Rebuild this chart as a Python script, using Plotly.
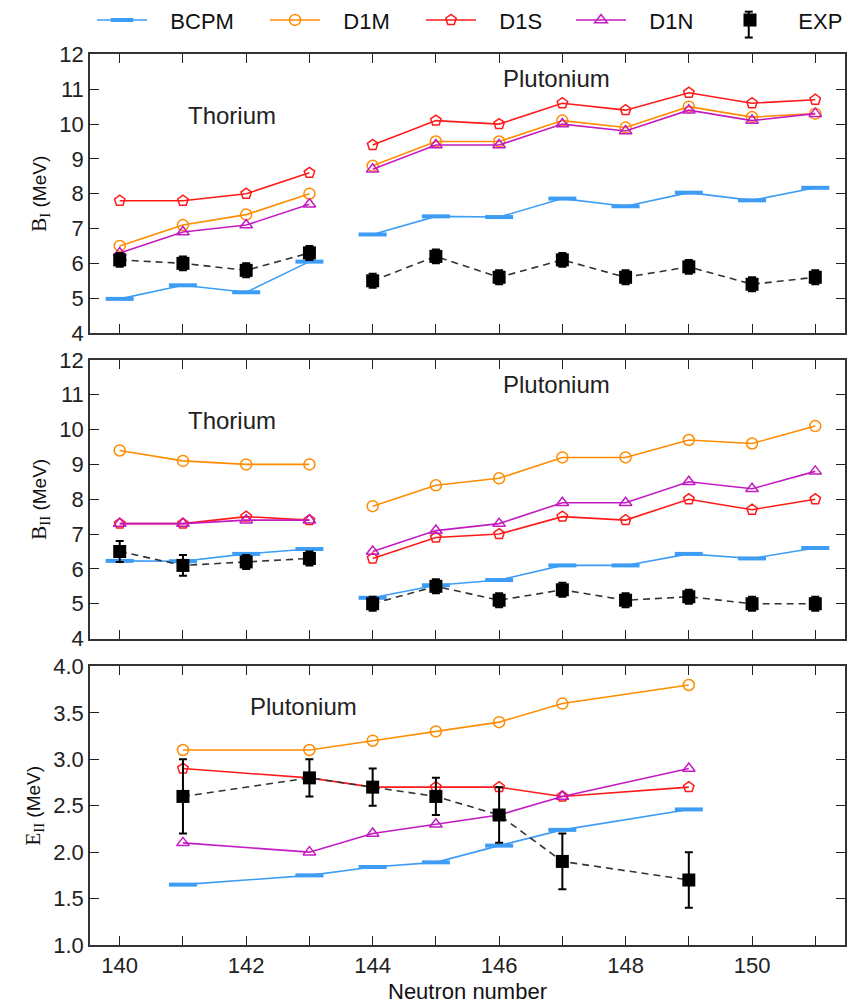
import plotly.graph_objects as go

# ---------------- data ----------------
N_TH = [140, 141, 142, 143]
N_PU = [144, 145, 146, 147, 148, 149, 150, 151]
N_E2 = [141, 143, 144, 145, 146, 147, 149]

# B_I (MeV)
BI_BCPM_TH = [4.98, 5.37, 5.17, 6.05]
BI_BCPM_PU = [6.83, 7.35, 7.33, 7.86, 7.64, 8.03, 7.81, 8.17]
BI_D1M_TH = [6.5, 7.1, 7.4, 8.0]
BI_D1M_PU = [8.8, 9.5, 9.5, 10.1, 9.9, 10.5, 10.2, 10.3]
BI_D1S_TH = [7.8, 7.8, 8.0, 8.6]
BI_D1S_PU = [9.4, 10.1, 10.0, 10.6, 10.4, 10.9, 10.6, 10.7]
BI_D1N_TH = [6.3, 6.9, 7.1, 7.7]
BI_D1N_PU = [8.7, 9.4, 9.4, 10.0, 9.8, 10.4, 10.1, 10.3]
BI_EXP_TH = [6.1, 6.0, 5.8, 6.3]
BI_EXP_PU = [5.5, 6.2, 5.6, 6.1, 5.6, 5.9, 5.4, 5.6]
BI_ERR_TH = [0.2, 0.2, 0.2, 0.2]
BI_ERR_PU = [0.2, 0.2, 0.2, 0.2, 0.2, 0.2, 0.2, 0.2]

# B_II (MeV)
BII_BCPM_TH = [6.23, 6.22, 6.43, 6.57]
BII_BCPM_PU = [5.17, 5.53, 5.68, 6.1, 6.1, 6.43, 6.3, 6.6]
BII_D1M_TH = [9.4, 9.1, 9.0, 9.0]
BII_D1M_PU = [7.8, 8.4, 8.6, 9.2, 9.2, 9.7, 9.6, 10.1]
BII_D1S_TH = [7.3, 7.3, 7.5, 7.4]
BII_D1S_PU = [6.3, 6.9, 7.0, 7.5, 7.4, 8.0, 7.7, 8.0]
BII_D1N_TH = [7.3, 7.3, 7.4, 7.4]
BII_D1N_PU = [6.5, 7.1, 7.3, 7.9, 7.9, 8.5, 8.3, 8.8]
BII_EXP_TH = [6.5, 6.1, 6.2, 6.3]
BII_EXP_PU = [5.0, 5.5, 5.1, 5.4, 5.1, 5.2, 5.0, 5.0]
BII_ERR_TH = [0.3, 0.3, 0.2, 0.2]
BII_ERR_PU = [0.2, 0.2, 0.2, 0.2, 0.2, 0.2, 0.2, 0.2]

# E_II (MeV), plutonium
EII_BCPM = [1.65, 1.75, 1.84, 1.89, 2.07, 2.24, 2.46]
EII_D1M = [3.1, 3.1, 3.2, 3.3, 3.4, 3.6, 3.8]
EII_D1S = [2.9, 2.8, 2.7, 2.7, 2.7, 2.6, 2.7]
EII_D1N = [2.1, 2.0, 2.2, 2.3, 2.4, 2.6, 2.9]
EII_EXP = [2.6, 2.8, 2.7, 2.6, 2.4, 1.9, 1.7]
EII_ERR = [0.4, 0.2, 0.2, 0.2, 0.3, 0.3, 0.3]

X_TICKS = [140, 142, 144, 146, 148, 150]
Y_TICKS_B = [4, 5, 6, 7, 8, 9, 10, 11, 12]
Y_TICKS_E = [1.0, 1.5, 2.0, 2.5, 3.0, 3.5, 4.0]

# ---------------- styles ----------------
FONT = "Liberation Sans"
C_BCPM = "#3d9df5"
C_D1M = "#ff8c00"
C_D1S = "#ff1a1a"
C_D1N = "#c21bc2"
C_EXP = "#000000"

STY = {
    "BCPM": dict(color=C_BCPM, marker=dict(symbol="line-ew", size=20,
                                           line=dict(color=C_BCPM, width=4))),
    "D1M": dict(color=C_D1M, marker=dict(symbol="circle-open", size=11,
                                         line=dict(color=C_D1M, width=1.5))),
    "D1S": dict(color=C_D1S, marker=dict(symbol="pentagon-open", size=11,
                                         line=dict(color=C_D1S, width=1.5))),
    "D1N": dict(color=C_D1N, marker=dict(symbol="triangle-up-open", size=11,
                                         line=dict(color=C_D1N, width=1.5))),
}
LEG = {"BCPM": "legend", "D1M": "legend2", "D1S": "legend3", "D1N": "legend4", "EXP": "legend5"}
NB = "\u00a0\u00a0\u00a0"

fig = go.Figure()


def join(a, b):
    return a + [None] + b


def add_model(name, x, y, xa, ya, show):
    s = STY[name]
    fig.add_trace(go.Scatter(
        x=x, y=y, mode="lines+markers", name=NB + name,
        line=dict(color=s["color"], width=1.6),
        marker=dict(color=s["color"], **s["marker"]),
        xaxis=xa, yaxis=ya, showlegend=show, legend=LEG[name],
        connectgaps=False, cliponaxis=False))


def add_exp(x, y, err, xa, ya, show):
    fig.add_trace(go.Scatter(
        x=x, y=y, mode="lines", line=dict(color="#333333", width=1.6, dash="7px,5px"),
        xaxis=xa, yaxis=ya, showlegend=False, connectgaps=False, hoverinfo="skip"))
    fig.add_trace(go.Scatter(
        x=x, y=y, mode="markers", name=NB + "EXP",
        marker=dict(symbol="square", size=13, color=C_EXP),
        error_y=dict(type="data", array=err, color=C_EXP, thickness=2, width=4),
        xaxis=xa, yaxis=ya, showlegend=show, legend=LEG["EXP"], cliponaxis=False))


# panel 1 : B_I  (x3/y3, top)
xa, ya = "x3", "y3"
add_model("BCPM", join(N_TH, N_PU), join(BI_BCPM_TH, BI_BCPM_PU), xa, ya, True)
add_model("D1M", join(N_TH, N_PU), join(BI_D1M_TH, BI_D1M_PU), xa, ya, True)
add_model("D1S", join(N_TH, N_PU), join(BI_D1S_TH, BI_D1S_PU), xa, ya, True)
add_model("D1N", join(N_TH, N_PU), join(BI_D1N_TH, BI_D1N_PU), xa, ya, True)
add_exp(join(N_TH, N_PU), join(BI_EXP_TH, BI_EXP_PU), join(BI_ERR_TH, BI_ERR_PU), xa, ya, True)

# panel 2 : B_II (x2/y2, middle)
xa, ya = "x2", "y2"
add_model("BCPM", join(N_TH, N_PU), join(BII_BCPM_TH, BII_BCPM_PU), xa, ya, False)
add_model("D1M", join(N_TH, N_PU), join(BII_D1M_TH, BII_D1M_PU), xa, ya, False)
add_model("D1S", join(N_TH, N_PU), join(BII_D1S_TH, BII_D1S_PU), xa, ya, False)
add_model("D1N", join(N_TH, N_PU), join(BII_D1N_TH, BII_D1N_PU), xa, ya, False)
add_exp(join(N_TH, N_PU), join(BII_EXP_TH, BII_EXP_PU), join(BII_ERR_TH, BII_ERR_PU), xa, ya, False)

# panel 3 : E_II (x/y, bottom)
xa, ya = "x", "y"
add_model("BCPM", N_E2, EII_BCPM, xa, ya, False)
add_model("D1M", N_E2, EII_D1M, xa, ya, False)
add_model("D1S", N_E2, EII_D1S, xa, ya, False)
add_model("D1N", N_E2, EII_D1N, xa, ya, False)
add_exp(N_E2, EII_EXP, EII_ERR, xa, ya, False)

# ---------------- axes ----------------
common = dict(showline=True, linecolor="#333333", linewidth=1.6, mirror="ticks",
              ticks="inside", ticklen=9, tickwidth=1.4, tickcolor="#222222",
              showgrid=False, zeroline=False,
              tickfont=dict(family=FONT, size=22, color="#222222"))
xminor = dict(dtick=1, tick0=140, ticks="inside", ticklen=9, tickwidth=1.4,
              tickcolor="#222222", showgrid=False)
XR = [139.53, 151.47]


def ytitle(sym, sub):
    return dict(text=("<span style='font-family:Liberation Serif;font-size:21px'>"
                      + sym + "<sub>" + sub + "</sub></span> (MeV)"),
                standoff=8, font=dict(family=FONT, size=19, color="#111111"))


fig.update_layout(
    xaxis=dict(domain=[0, 1], range=XR, tickvals=X_TICKS, minor=xminor,
               anchor="y", title=dict(text="Neutron number", standoff=6,
                                      font=dict(family=FONT, size=22, color="#111111")),
               **common),
    xaxis2=dict(domain=[0, 1], range=XR, tickvals=X_TICKS, minor=xminor, showticklabels=False,
                anchor="y2", matches="x", **common),
    xaxis3=dict(domain=[0, 1], range=XR, tickvals=X_TICKS, minor=xminor, showticklabels=False,
                anchor="y3", matches="x", **common),
    yaxis=dict(domain=[0, 0.3128], range=[1.0, 4.0], tickvals=Y_TICKS_E,
               tickformat=".1f", anchor="x", title=ytitle("E", "II"), **common),
    yaxis2=dict(domain=[0.3441, 0.6570], range=[4, 12], tickvals=Y_TICKS_B,
                anchor="x2", title=ytitle("B", "II"), **common),
    yaxis3=dict(domain=[0.6872, 1.0], range=[4, 12], tickvals=Y_TICKS_B,
                anchor="x3", title=ytitle("B", "I"), **common),
)

# ---------------- legends ----------------
leg_common = dict(orientation="h", xref="container", yref="container", y=0.98,
                  yanchor="middle", xanchor="left", itemwidth=50,
                  bgcolor="rgba(0,0,0,0)", borderwidth=0,
                  font=dict(family=FONT, size=22, color="#111111"))
fig.update_layout(
    legend=dict(x=92 / 848, **leg_common),
    legend2=dict(x=265 / 848, **leg_common),
    legend3=dict(x=421 / 848, **leg_common),
    legend4=dict(x=571 / 848, **leg_common),
    legend5=dict(x=720 / 848, **leg_common),
)

# error-bar glyph for the EXP legend entry (legend decoration only)
PX0, PW, PY0, PH = 90.0, 757.0, 945.0, 895.0


def px(xp):
    return (xp - PX0) / PW


def py(yp):
    return (PY0 - yp) / PH


lx, ytop, ybot, cap = 750.5, 7.0, 33.0, 4.0
for x0, y0, x1, y1 in [(lx, ytop, lx, ybot), (lx - cap, ytop, lx + cap, ytop),
                       (lx - cap, ybot, lx + cap, ybot)]:
    fig.add_shape(type="line", xref="paper", yref="paper",
                  x0=px(x0), y0=py(y0), x1=px(x1), y1=py(y1),
                  line=dict(color="#000000", width=2))

# ---------------- labels ----------------
ann = [
    dict(text="Thorium", x=141.77, y=10.24, xref="x3", yref="y3"),
    dict(text="Plutonium", x=146.9, y=11.3, xref="x3", yref="y3"),
    dict(text="Thorium", x=141.77, y=10.26, xref="x2", yref="y2"),
    dict(text="Plutonium", x=146.9, y=11.3, xref="x2", yref="y2"),
    dict(text="Plutonium", x=142.9, y=3.57, xref="x", yref="y"),
]
for a in ann:
    fig.add_annotation(showarrow=False, font=dict(family=FONT, size=24, color="#222222"), **a)

fig.update_layout(width=848, height=1007, margin=dict(l=90, r=1, t=50, b=62),
                  plot_bgcolor="white", paper_bgcolor="white")

fig.write_html("out.html")
